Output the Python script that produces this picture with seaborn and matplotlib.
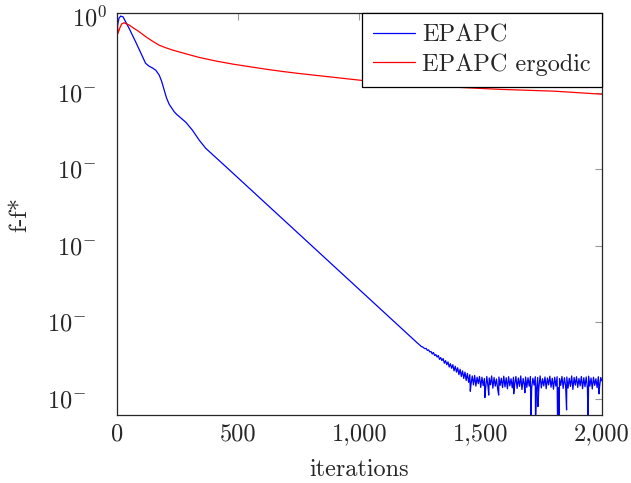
import numpy as np
import pandas as pd
import matplotlib
matplotlib.use("Agg")
import matplotlib.pyplot as plt
import matplotlib.transforms as mtransforms
import seaborn as sns

# EPAPC: smooth part (iteration, log10 of f-f*)
blue_iter = [0, 1, 8, 15, 25, 50, 77, 105, 118, 132, 146, 160, 174, 184, 194, 204, 215,
             236, 246, 256, 268, 284, 311, 339, 366, 449, 1240]
blue_exp = [-0.87, -0.42, -0.09, 0.0, -0.03, -0.48, -1.01, -1.59, -1.85, -1.96, -2.03,
            -2.12, -2.31, -2.55, -2.88, -3.20, -3.45, -3.75, -3.85, -3.93, -4.03, -4.16,
            -4.47, -4.86, -5.18, -5.90, -12.82]

# EPAPC: noisy floor, every 5 iterations from 1250 to 2000
floor_iter = list(range(1250, 2001, 5))
floor_exp = [
    -12.90, -12.95, -12.96, -13.00, -13.03, -13.02, -13.10, -13.08, -13.16, -13.14,
    -13.24, -13.18, -13.30, -13.26, -13.36, -13.30, -13.45, -13.38, -13.50, -13.42,
    -13.60, -13.50, -13.66, -13.55, -13.75, -13.62, -13.80, -13.66, -13.90, -13.72,
    -13.95, -13.78, -14.05, -13.84, -14.12, -13.90, -14.20, -13.95, -14.28, -14.00,
    -14.35, -14.05, -14.42, -14.10, -14.45, -14.08, -14.50, -14.15, -14.40, -14.12,
    -14.55, -14.15, -14.48, -14.20, -14.60, -14.12, -14.52, -14.18, -14.45, -14.10,
    -14.58, -14.16, -14.50, -14.22, -14.62, -14.14, -14.47, -14.19, -14.56, -14.11,
    -14.53, -14.17, -14.60, -14.13, -14.49, -14.21, -14.57, -14.15, -14.44, -14.12,
    -14.59, -14.18, -14.51, -14.10, -14.63, -14.20, -14.48, -14.14, -14.55, -14.17,
    -14.50, -14.12, -14.58, -14.19, -14.46, -14.13, -14.61, -14.16, -14.52, -14.10,
    -14.57, -14.21, -14.49, -14.14, -14.60, -14.18, -14.45, -14.11, -14.54, -14.19,
    -14.62, -14.15, -14.50, -14.13, -14.56, -14.20, -14.47, -14.12, -14.59, -14.17,
    -14.48, -14.14, -14.58, -14.19, -14.51, -14.10, -14.63, -14.16, -14.46, -14.13,
    -14.55, -14.20, -14.49, -14.12, -14.60, -14.17, -14.52, -14.14, -14.57, -14.11,
    -14.50, -14.18, -14.61, -14.15, -14.47, -14.21, -14.56, -14.13, -14.53, -14.16,
    -14.30]

# EPAPC: downward spikes in the floor
spike_iter = [1457, 1517, 1533, 1574, 1636, 1682, 1707, 1726, 1736, 1817, 1823, 1854, 1943, 1988]
spike_exp = [-14.70, -14.95, -14.85, -14.85, -14.80, -14.76, -16.0, -16.0, -15.30, -16.0,
             -16.0, -15.43, -16.0, -14.80]

# EPAPC ergodic
red_iter = [0, 4, 11, 19, 29, 50, 70, 91, 119, 146, 174, 201, 229, 270, 339, 408, 477,
            545, 614, 683, 752, 1000, 1165, 1300, 1578, 1800, 2000]
red_exp = [0.10, -0.68, -0.48, -0.31, -0.26, -0.35, -0.48, -0.61, -0.81, -0.98, -1.14,
           -1.24, -1.33, -1.44, -1.62, -1.76, -1.88, -1.98, -2.08, -2.17, -2.25, -2.51,
           -2.64, -2.74, -2.87, -2.94, -3.06]

ytick_exp = [0, -3, -6, -9, -12, -15]
ytick_labels = [r"$10^{0}$", r"$10^{-}$", r"$10^{-}$", r"$10^{-}$", r"$10^{-}$", r"$10^{-}$"]
ytick_shift = [0, 11, 11, 11, 21, 21]   # pixels, label pushed left
xticks = [0, 500, 1000, 1500, 2000]

sns.set_style("white")
plt.rcParams["font.family"] = "serif"
plt.rcParams["font.serif"] = ["cmr10", "DejaVu Serif"]
plt.rcParams["mathtext.fontset"] = "cm"
plt.rcParams["axes.unicode_minus"] = False

blue = pd.DataFrame({"it": blue_iter + floor_iter + spike_iter,
                     "exp": blue_exp + floor_exp + spike_exp}).sort_values("it")
blue["val"] = 10.0 ** blue["exp"]
blue["serie"] = "EPAPC"
red = pd.DataFrame({"it": red_iter, "exp": red_exp})
red["val"] = 10.0 ** red["exp"]
red["serie"] = "EPAPC ergodic"
df = pd.concat([blue, red], ignore_index=True)

fig = plt.figure(figsize=(6.31, 4.83), dpi=100)
ax = fig.add_axes([0.1854, 0.1408, 0.7686, 0.8322])
sns.lineplot(data=df, x="it", y="val", hue="serie",
             palette={"EPAPC": "#0000ff", "EPAPC ergodic": "#ff0000"},
             estimator=None, sort=False, linewidth=0.9, ax=ax)

ax.set_yscale("log")
ax.set_xlim(0, 2000)
ax.set_ylim(10 ** -15.63, 10 ** 0.12)
ax.set_yticks([10.0 ** e for e in ytick_exp])
ax.set_yticklabels(ytick_labels)
ax.minorticks_off()
ax.set_xticks(xticks)
ax.set_xticklabels(["{:,}".format(v) for v in xticks])
ax.tick_params(direction="in", length=5, width=0.8, color="0.6", top=True, right=True,
               labelsize=17.5)
ax.tick_params(axis="y", pad=7)
ax.tick_params(axis="x", pad=6)
for lab, sh in zip(ax.get_yticklabels(), ytick_shift):
    lab.set_transform(lab.get_transform() +
                      mtransforms.ScaledTranslation(-sh / 100.0, 0, fig.dpi_scale_trans))
for s in ax.spines.values():
    s.set_color("0.15")
    s.set_linewidth(0.9)
ax.set_xlabel("iterations", fontsize=17.5)
ax.set_ylabel("f-f*", fontsize=17.5)
ax.xaxis.set_label_coords(0.5, -0.11)
ax.yaxis.set_label_coords(-0.176, 0.5)

leg = ax.legend(loc="upper right", borderaxespad=0, fontsize=17.5, frameon=True, fancybox=False,
                edgecolor="black", framealpha=1, handlelength=1.75, handletextpad=0.3,
                borderpad=0.45, labelspacing=0.3)
leg.get_frame().set_linewidth(0.9)

plt.savefig("out.png", dpi=100)
